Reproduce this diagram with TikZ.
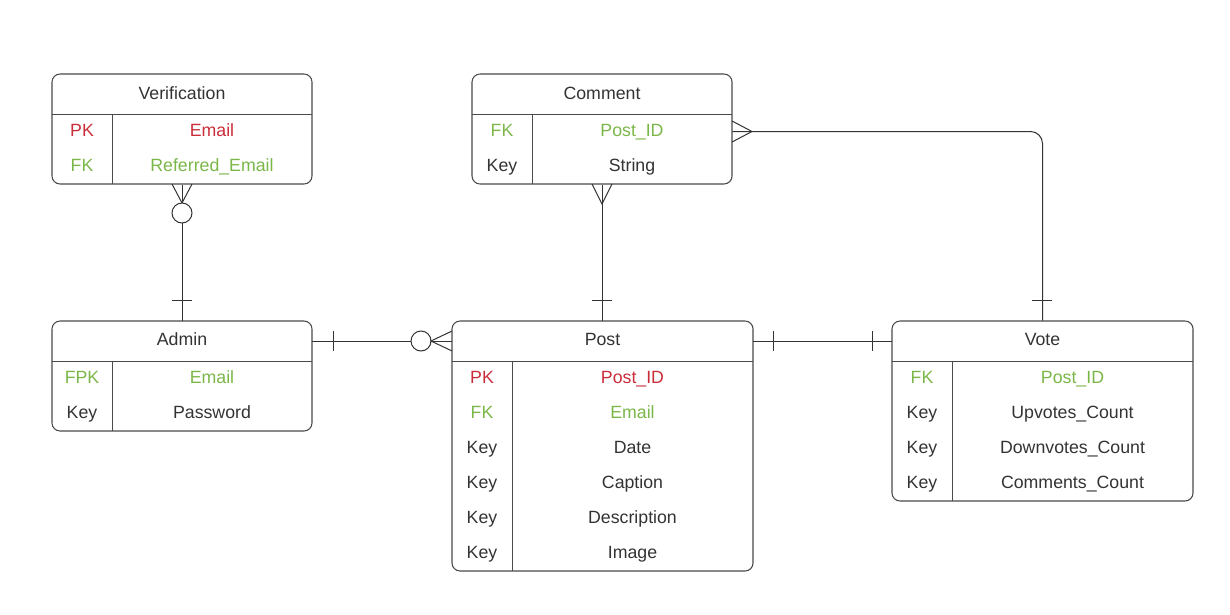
\documentclass[tikz,border=0pt]{standalone}
\usepackage{fontspec}
\setmainfont{Liberation Sans}
\usetikzlibrary{positioning}

\definecolor{pkred}{HTML}{C92D39}
\definecolor{fkgreen}{HTML}{7AB648}
\definecolor{inkgray}{HTML}{333333}
\definecolor{boxgray}{HTML}{4A4A4A}

\tikzset{
  entity/.style={draw=boxgray, line width=0.8pt, rounded corners=6pt, inner sep=0pt},
  title/.style={inner sep=0pt, minimum height=30pt, text height=9.5pt, text depth=2.7pt, text=inkgray},
  keycell/.style={inner sep=0pt, minimum width=45pt, minimum height=26.25pt, text height=9.5pt, text depth=2.7pt, text=inkgray},
  valcell/.style={inner sep=0pt, minimum height=26.25pt, text height=9.5pt, text depth=2.7pt, text=inkgray},
  rel/.style={draw=inkgray, line width=0.75pt}
}

\begin{document}
\begin{tikzpicture}[x=0.75pt, y=-0.75pt, font=\fontsize{13.3}{15}\selectfont]
    \useasboundingbox (0,0) rectangle (1230,614);

    % Draw the entity boxes
    \node[entity, minimum width=195pt, minimum height=82.5pt] (verif) at (182,129) {};
    \node[entity, minimum width=195pt, minimum height=82.5pt] (comment) at (602,129) {};
    \node[entity, minimum width=195pt, minimum height=82.5pt] (admin) at (182,376) {};
    \node[entity, minimum width=225.75pt, minimum height=187.5pt] (post) at (602.5,446) {};
    \node[entity, minimum width=225.75pt, minimum height=135pt] (vote) at (1042.5,411) {};

    % Verification
    \node[title, minimum width=195pt] (verifTitle) at (182,94.5) {Verification};
    \node[keycell, text=pkred] (verifK1) at (82,131.5) {PK};
    \node[keycell, text=fkgreen] (verifK2) at (82,166.5) {FK};
    \node[valcell, minimum width=150pt, text=pkred] (verifV1) at (212,131.5) {Email};
    \node[valcell, minimum width=150pt, text=fkgreen] (verifV2) at (212,166.5) {Referred\_Email};
    \draw[draw=boxgray, line width=0.8pt] (verifTitle.south west) -- (verifTitle.south east);
    \draw[draw=boxgray, line width=0.8pt] (verifK1.north east) -- (verifK2.south east);

    % Comment
    \node[title, minimum width=195pt] (commentTitle) at (602,94.5) {Comment};
    \node[keycell, text=fkgreen] (commentK1) at (502,131.5) {FK};
    \node[keycell] (commentK2) at (502,166.5) {Key};
    \node[valcell, minimum width=150pt, text=fkgreen] (commentV1) at (632,131.5) {Post\_ID};
    \node[valcell, minimum width=150pt] (commentV2) at (632,166.5) {String};
    \draw[draw=boxgray, line width=0.8pt] (commentTitle.south west) -- (commentTitle.south east);
    \draw[draw=boxgray, line width=0.8pt] (commentK1.north east) -- (commentK2.south east);

    % Admin
    \node[title, minimum width=195pt] (adminTitle) at (182,341) {Admin};
    \node[keycell, text=fkgreen] (adminK1) at (82,378.5) {FPK};
    \node[keycell] (adminK2) at (82,413.5) {Key};
    \node[valcell, minimum width=150pt, text=fkgreen] (adminV1) at (212,378.5) {Email};
    \node[valcell, minimum width=150pt] (adminV2) at (212,413.5) {Password};
    \draw[draw=boxgray, line width=0.8pt] (adminTitle.south west) -- (adminTitle.south east);
    \draw[draw=boxgray, line width=0.8pt] (adminK1.north east) -- (adminK2.south east);

    % Post
    \node[title, minimum width=225.75pt] (postTitle) at (602.5,341) {Post};
    \node[keycell, text=pkred] (postK1) at (482,378.5) {PK};
    \node[keycell, text=fkgreen] (postK2) at (482,413.5) {FK};
    \node[keycell] (postK3) at (482,448.5) {Key};
    \node[keycell] (postK4) at (482,483.5) {Key};
    \node[keycell] (postK5) at (482,518.5) {Key};
    \node[keycell] (postK6) at (482,553.5) {Key};
    \node[valcell, minimum width=180.75pt, text=pkred] (postV1) at (632.5,378.5) {Post\_ID};
    \node[valcell, minimum width=180.75pt, text=fkgreen] (postV2) at (632.5,413.5) {Email};
    \node[valcell, minimum width=180.75pt] (postV3) at (632.5,448.5) {Date};
    \node[valcell, minimum width=180.75pt] (postV4) at (632.5,483.5) {Caption};
    \node[valcell, minimum width=180.75pt] (postV5) at (632.5,518.5) {Description};
    \node[valcell, minimum width=180.75pt] (postV6) at (632.5,553.5) {Image};
    \draw[draw=boxgray, line width=0.8pt] (postTitle.south west) -- (postTitle.south east);
    \draw[draw=boxgray, line width=0.8pt] (postK1.north east) -- (postK6.south east);

    % Vote
    \node[title, minimum width=225.75pt] (voteTitle) at (1042.5,341) {Vote};
    \node[keycell, text=fkgreen] (voteK1) at (922,378.5) {FK};
    \node[keycell] (voteK2) at (922,413.5) {Key};
    \node[keycell] (voteK3) at (922,448.5) {Key};
    \node[keycell] (voteK4) at (922,483.5) {Key};
    \node[valcell, minimum width=180.75pt, text=fkgreen] (voteV1) at (1072.5,378.5) {Post\_ID};
    \node[valcell, minimum width=180.75pt] (voteV2) at (1072.5,413.5) {Upvotes\_Count};
    \node[valcell, minimum width=180.75pt] (voteV3) at (1072.5,448.5) {Downvotes\_Count};
    \node[valcell, minimum width=180.75pt] (voteV4) at (1072.5,483.5) {Comments\_Count};
    \draw[draw=boxgray, line width=0.8pt] (voteTitle.south west) -- (voteTitle.south east);
    \draw[draw=boxgray, line width=0.8pt] (voteK1.north east) -- (voteK4.south east);

    % Draw the relationships
    \draw[rel] (verif.south) -- (adminTitle.north);
    \draw[rel] (adminTitle.east) -- (postTitle.west);
    \draw[rel] (comment.south) -- (comment.south |- postTitle.north);
    \draw[rel] (postTitle.east) -- (voteTitle.west);
    \draw[rel, rounded corners=9pt] (commentV1.east) -| (voteTitle.north);

    % Verification -- Admin: zero or many / one
    \draw[rel] (172,184) -- (182,203) -- (192,184);
    \draw[rel, fill=white] (182,213) circle (7.5pt);
    \draw[rel] (172,300) -- (192,300);

    % Admin -- Post: one / zero or many
    \draw[rel] (333,331) -- (333,351);
    \draw[rel, fill=white] (421,341) circle (7.5pt);
    \draw[rel] (452,331) -- (431,341) -- (452,351);

    % Comment -- Post: many / one
    \draw[rel] (592,184) -- (602,204) -- (612,184);
    \draw[rel] (592,300) -- (612,300);

    % Comment -- Vote: many / one
    \draw[rel] (732,121) -- (752,131.5) -- (732,142);
    \draw[rel] (1032,300) -- (1052,300);

    % Post -- Vote: one / one
    \draw[rel] (773,331) -- (773,351);
    \draw[rel] (872,331) -- (872,351);
\end{tikzpicture}
\end{document}
